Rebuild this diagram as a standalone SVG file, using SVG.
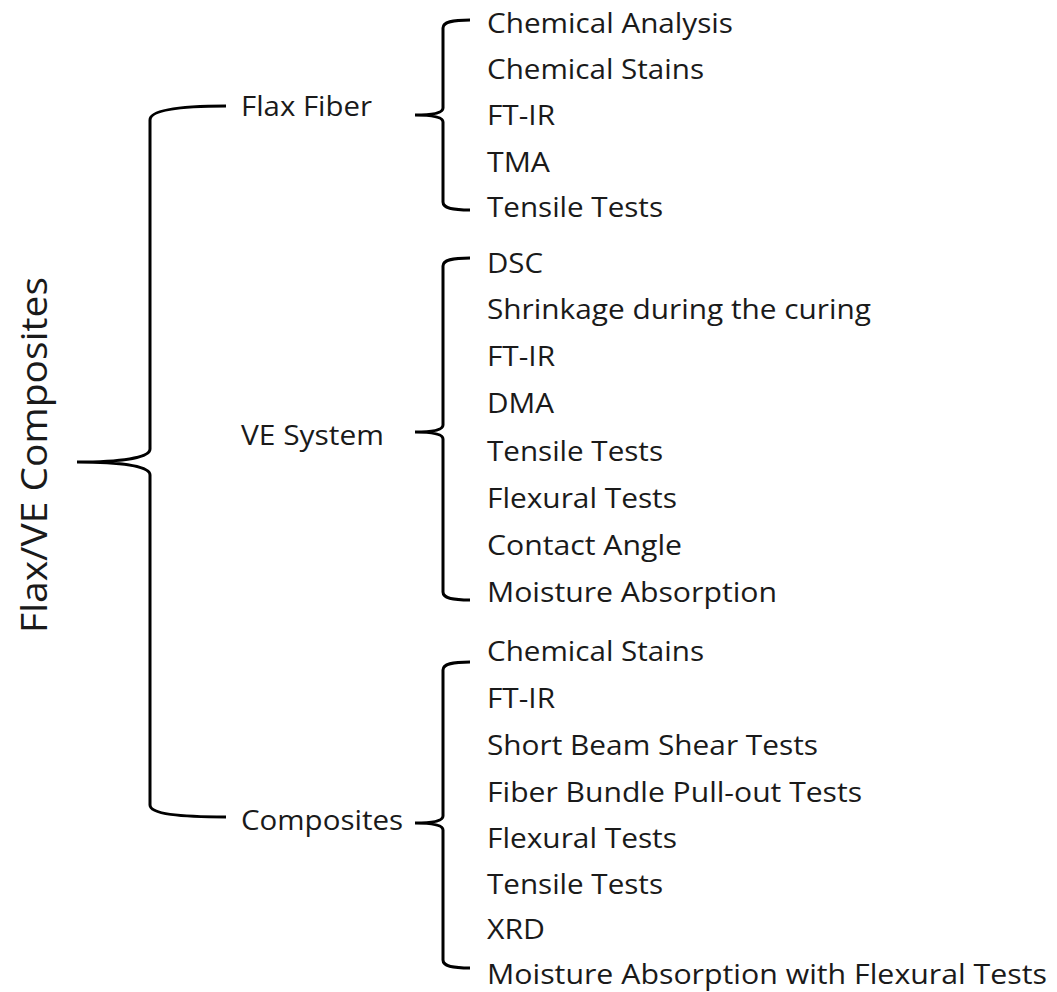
<svg xmlns="http://www.w3.org/2000/svg" width="1057" height="992" viewBox="0 0 1057 992">
<style>
text{font-family:"Open Sans","Liberation Sans",sans-serif;font-size:27px;fill:#1a1a1a}
.root{font-size:36px}
.brace{fill:none;stroke:#000;stroke-width:3;stroke-linecap:butt}
</style>
<rect width="1057" height="992" fill="#fff"/>
<g id="connectors">
<path class="brace" d="M226,106 C180,106 150,110 150,120 L150,449 C150,458 120,462 77,462 C120,462 150,466 150,475 L150,805 C150,814 180,817 226,817"/>
<path class="brace" d="M470,20 C452,20 443,22 443,28 L443,108 C443,113 432,115 415,115 C432,115 443,117 443,122 L443,202 C443,208 452,210 470,210"/>
<path class="brace" d="M470,258 C452,258 443,260 443,266 L443,425 C443,430 432,432 415,432 C432,432 443,434 443,439 L443,592 C443,598 452,600 470,600"/>
<path class="brace" d="M470,662 C452,662 443,664 443,670 L443,816 C443,821 432,823 415,823 C432,823 443,825 443,830 L443,960 C443,966 452,968 470,968"/>
</g>
<g id="root"><text class="root" transform="translate(47,455) rotate(-90)" text-anchor="middle" textLength="356" lengthAdjust="spacingAndGlyphs">Flax/VE Composites</text></g>
<g id="flax"><text x="241" y="116" textLength="131" lengthAdjust="spacingAndGlyphs">Flax Fiber</text></g>
<g id="ve"><text x="241" y="445" textLength="143" lengthAdjust="spacingAndGlyphs">VE System</text></g>
<g id="comp"><text x="241" y="830" textLength="162" lengthAdjust="spacingAndGlyphs">Composites</text></g>
<g id="flax-items">
<text x="487" y="33" textLength="246" lengthAdjust="spacingAndGlyphs">Chemical Analysis</text>
<text x="487" y="79" textLength="217" lengthAdjust="spacingAndGlyphs">Chemical Stains</text>
<text x="487" y="125" textLength="68" lengthAdjust="spacingAndGlyphs">FT-IR</text>
<text x="487" y="172" textLength="63" lengthAdjust="spacingAndGlyphs">TMA</text>
<text x="487" y="217" textLength="176" lengthAdjust="spacingAndGlyphs">Tensile Tests</text>
</g>
<g id="ve-items">
<text x="487" y="273" textLength="56" lengthAdjust="spacingAndGlyphs">DSC</text>
<text x="487" y="319" textLength="384" lengthAdjust="spacingAndGlyphs">Shrinkage during the curing</text>
<text x="487" y="366" textLength="68" lengthAdjust="spacingAndGlyphs">FT-IR</text>
<text x="487" y="413" textLength="67" lengthAdjust="spacingAndGlyphs">DMA</text>
<text x="487" y="461" textLength="176" lengthAdjust="spacingAndGlyphs">Tensile Tests</text>
<text x="487" y="508" textLength="190" lengthAdjust="spacingAndGlyphs">Flexural Tests</text>
<text x="487" y="555" textLength="195" lengthAdjust="spacingAndGlyphs">Contact Angle</text>
<text x="487" y="602" textLength="290" lengthAdjust="spacingAndGlyphs">Moisture Absorption</text>
</g>
<g id="comp-items">
<text x="487" y="661" textLength="217" lengthAdjust="spacingAndGlyphs">Chemical Stains</text>
<text x="487" y="708" textLength="68" lengthAdjust="spacingAndGlyphs">FT-IR</text>
<text x="487" y="755" textLength="331" lengthAdjust="spacingAndGlyphs">Short Beam Shear Tests</text>
<text x="487" y="802" textLength="375" lengthAdjust="spacingAndGlyphs">Fiber Bundle Pull-out Tests</text>
<text x="487" y="848" textLength="190" lengthAdjust="spacingAndGlyphs">Flexural Tests</text>
<text x="487" y="894" textLength="176" lengthAdjust="spacingAndGlyphs">Tensile Tests</text>
<text x="487" y="939" textLength="58" lengthAdjust="spacingAndGlyphs">XRD</text>
<text x="487" y="984" textLength="560" lengthAdjust="spacingAndGlyphs">Moisture Absorption with Flexural Tests</text>
</g>
</svg>
